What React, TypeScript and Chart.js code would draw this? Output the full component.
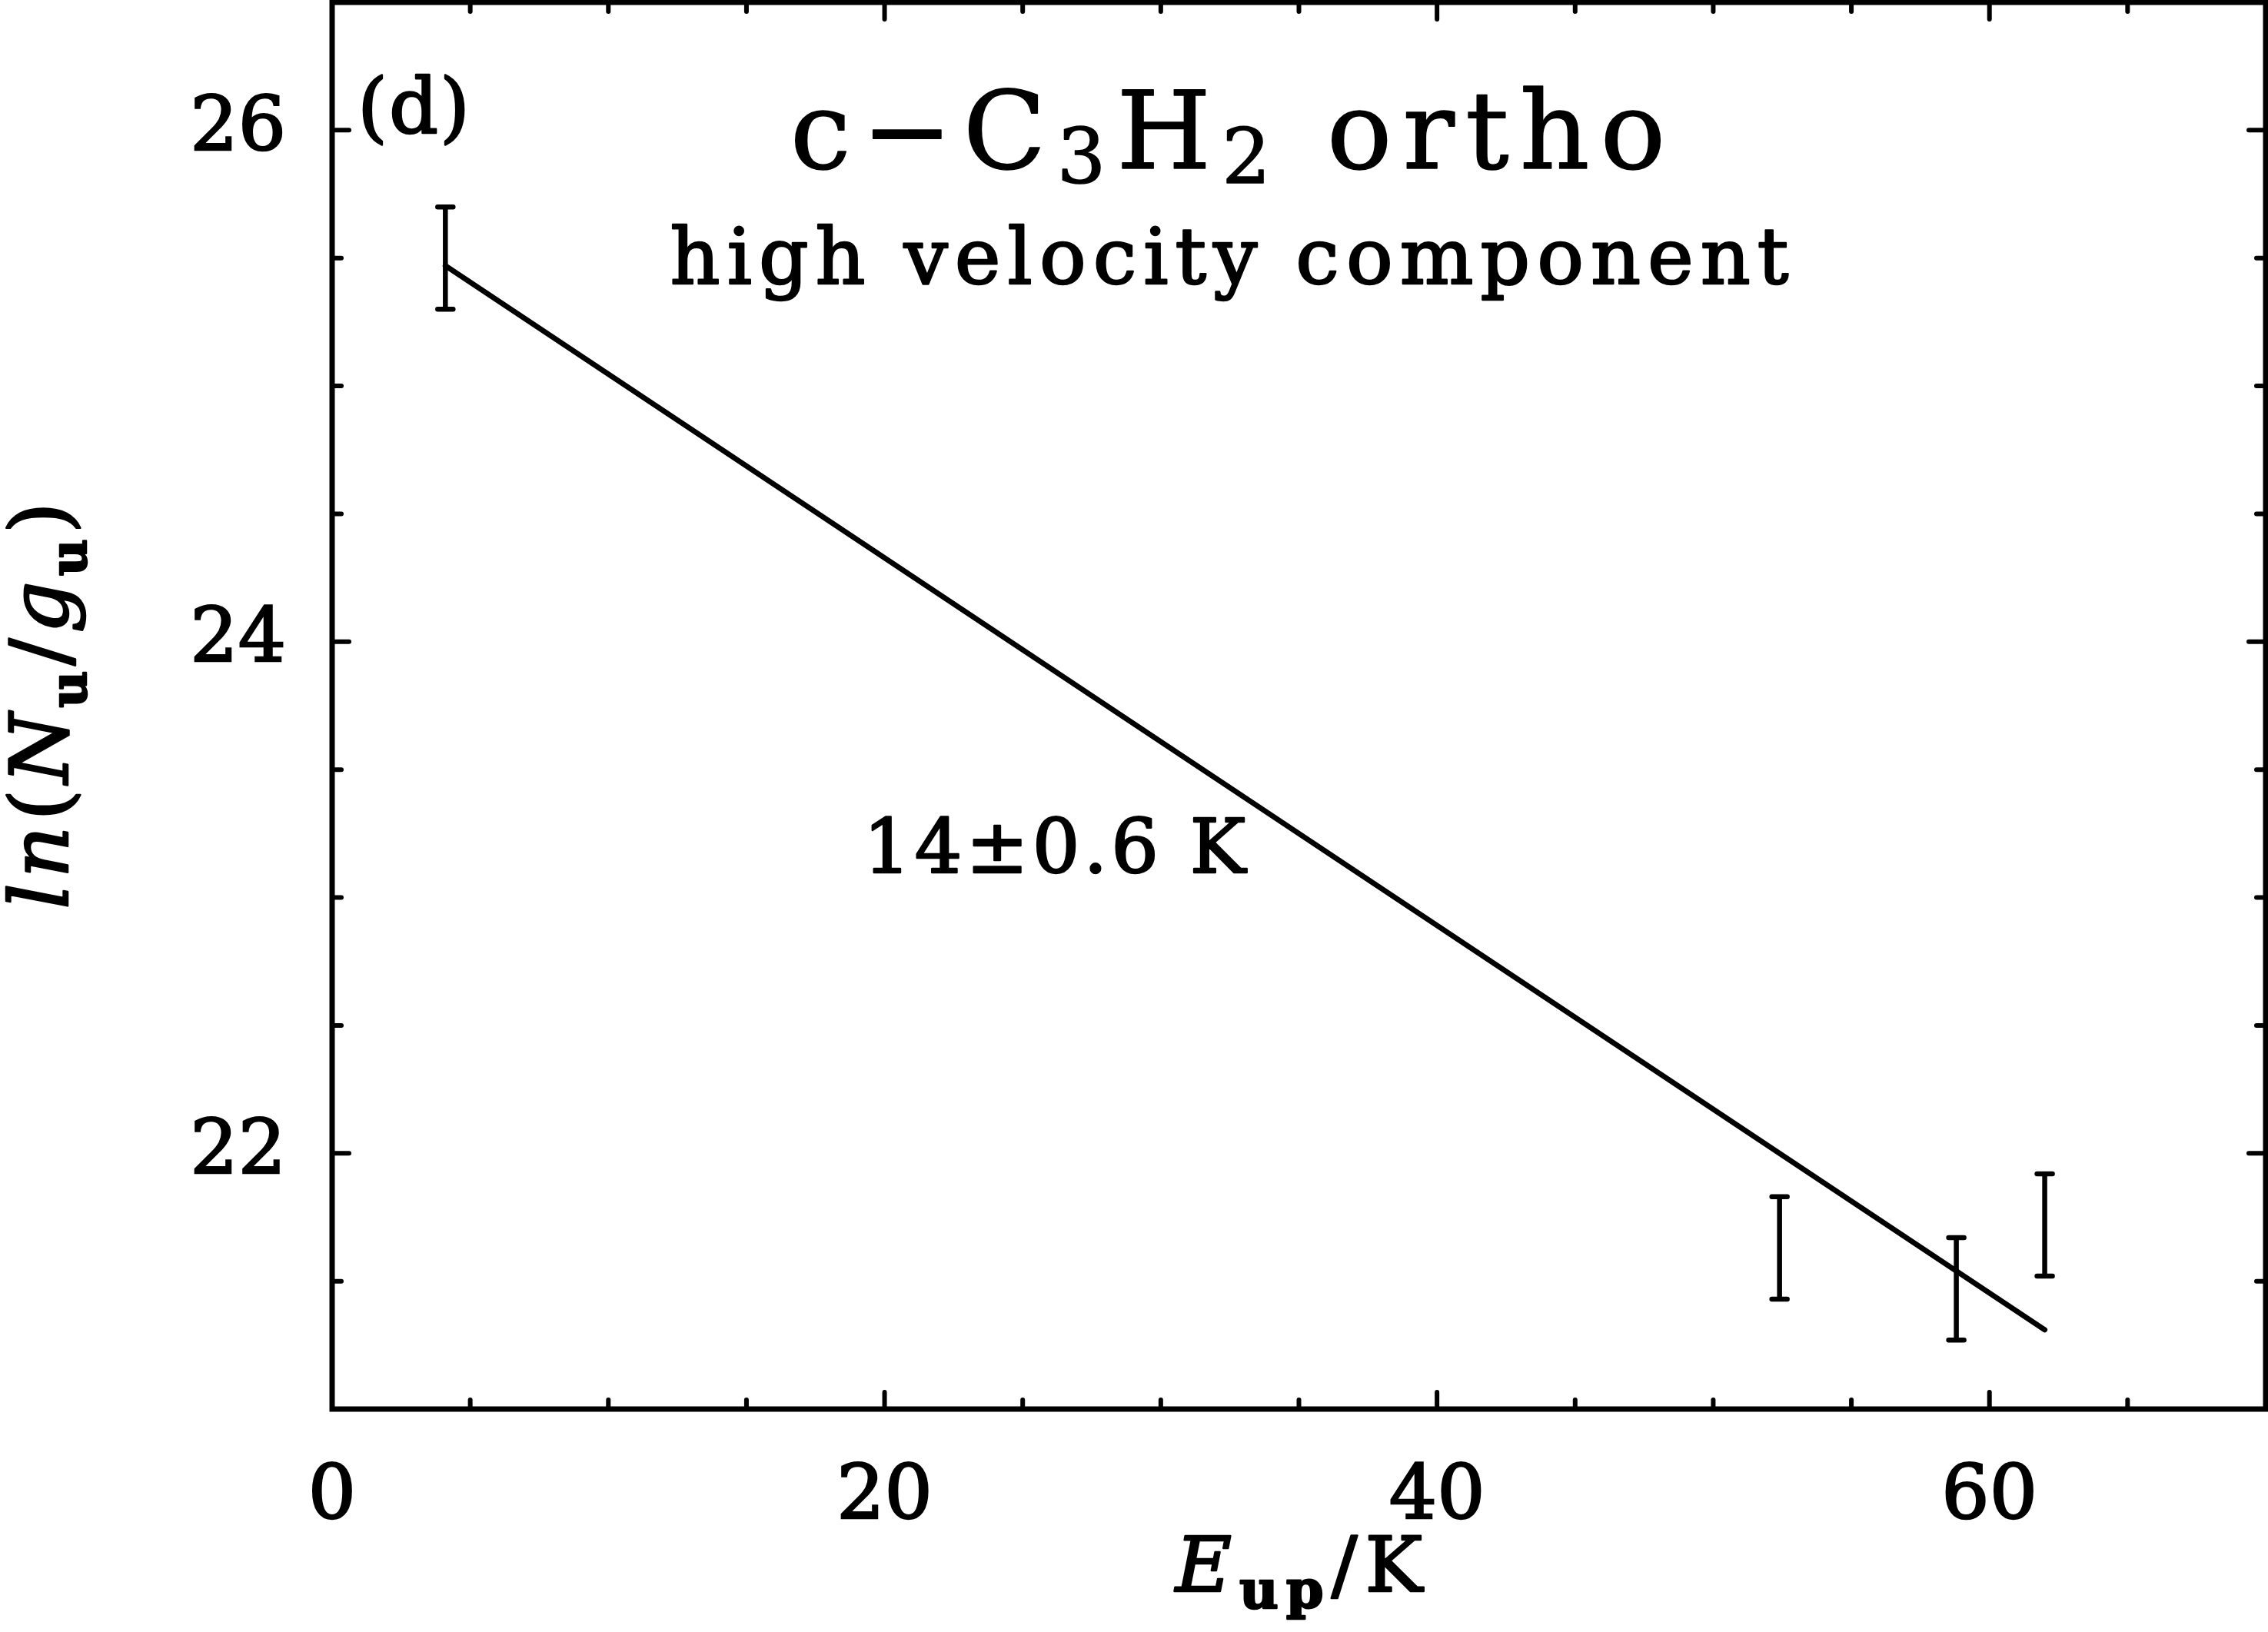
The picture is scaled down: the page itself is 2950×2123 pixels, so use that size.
import React, { useEffect, useRef } from "react";
import { Chart, registerables } from "chart.js";

Chart.register(...registerables);

// ---- data ----
const energies = [4.1, 52.4, 58.8, 62.0]; // E_up / K
const lnNg = [25.5, 21.63, 21.47, 21.72]; // ln(N_u/g_u)
const lnNgErr = [0.2, 0.2, 0.2, 0.2];
const fitX = [4.1, 62.0];
const fitY = [25.47, 21.31];
const xTickValues = [0, 20, 40, 60];
const yTickValues = [22, 24, 26];
const xRange = [0, 70];
const yRange = [21, 26.5];
const xMinorStep = 5;
const yMinorStep = 0.5;
const panelLabel = "(d)";
const moleculeParts = ["c\u2212C", "3", "H", "2", " ortho"];
const componentLabel = "high velocity component";
const fitLabel = "14\u00b10.6 K";

const FAM = '"DejaVu Serif", serif';

type Run = { t: string; size: number; style?: string; weight?: string; dy?: number };

function drawRuns(
  ctx: CanvasRenderingContext2D,
  runs: Run[],
  x: number,
  y: number,
  align: "left" | "center" | "right",
  spacing: number,
  stroke = 2.5
) {
  ctx.save();
  const fontOf = (r: Run) => `${r.style || "normal"} ${r.weight || "normal"} ${r.size}px ${FAM}`;
  (ctx as any).letterSpacing = spacing + "px";
  ctx.textAlign = "left";
  ctx.textBaseline = "alphabetic";
  ctx.fillStyle = "#000";
  ctx.strokeStyle = "#000";
  ctx.lineWidth = stroke;
  ctx.lineJoin = "round";
  const ws: number[] = [];
  let total = 0;
  for (const r of runs) {
    ctx.font = fontOf(r);
    const w = ctx.measureText(r.t).width;
    ws.push(w);
    total += w;
  }
  total -= spacing;
  let cx = align === "center" ? x - total / 2 : align === "right" ? x - total : x;
  runs.forEach((r, i) => {
    ctx.font = fontOf(r);
    ctx.fillText(r.t, cx, y + (r.dy || 0));
    if (stroke > 0) ctx.strokeText(r.t, cx, y + (r.dy || 0));
    cx += ws[i];
  });
  ctx.restore();
}

const framePlugin = {
  id: "framePlugin",
  afterDatasetsDraw(chart: any) {
    const ctx: CanvasRenderingContext2D = chart.ctx;
    const ca = chart.chartArea;
    const xs = chart.scales.x;
    const ys = chart.scales.y;
    ctx.save();
    ctx.strokeStyle = "#000";
    ctx.lineCap = "round";

    // error bars
    ctx.lineWidth = 6.5;
    energies.forEach((e, i) => {
      const px = xs.getPixelForValue(e);
      const pTop = ys.getPixelForValue(lnNg[i] + lnNgErr[i]);
      const pBot = ys.getPixelForValue(lnNg[i] - lnNgErr[i]);
      ctx.beginPath();
      ctx.moveTo(px, pTop);
      ctx.lineTo(px, pBot);
      ctx.moveTo(px - 10, pTop);
      ctx.lineTo(px + 10, pTop);
      ctx.moveTo(px - 10, pBot);
      ctx.lineTo(px + 10, pBot);
      ctx.stroke();
    });

    // ticks (inward, all four sides)
    ctx.lineWidth = 6;
    for (let v = xRange[0]; v <= xRange[1] + 1e-9; v += xMinorStep) {
      const major = xTickValues.some((t) => Math.abs(t - v) < 1e-9);
      const len = major ? 22 : 12;
      const px = xs.getPixelForValue(v);
      ctx.beginPath();
      ctx.moveTo(px, ca.bottom);
      ctx.lineTo(px, ca.bottom - len);
      ctx.moveTo(px, ca.top);
      ctx.lineTo(px, ca.top + len);
      ctx.stroke();
    }
    for (let v = yRange[0]; v <= yRange[1] + 1e-9; v += yMinorStep) {
      const major = yTickValues.some((t) => Math.abs(t - v) < 1e-9);
      const len = major ? 22 : 12;
      const py = ys.getPixelForValue(v);
      ctx.beginPath();
      ctx.moveTo(ca.left, py);
      ctx.lineTo(ca.left + len, py);
      ctx.moveTo(ca.right, py);
      ctx.lineTo(ca.right - len, py);
      ctx.stroke();
    }

    // frame
    ctx.lineWidth = 7;
    ctx.lineCap = "butt";
    ctx.lineJoin = "miter";
    ctx.strokeRect(ca.left, ca.top, ca.right - ca.left, ca.bottom - ca.top);
    ctx.restore();

    // texts
    drawRuns(ctx, [{ t: panelLabel, size: 100 }], ca.left + 33, ca.top + 170, "left", 2);
    drawRuns(
      ctx,
      [
        { t: moleculeParts[0], size: 141 },
        { t: moleculeParts[1], size: 100, dy: 19 },
        { t: moleculeParts[2], size: 141 },
        { t: moleculeParts[3], size: 100, dy: 19 },
        { t: moleculeParts[4], size: 141 },
      ],
      ca.left + 1165,
      ca.top + 216,
      "center",
      14,
      1.5
    );
    drawRuns(ctx, [{ t: componentLabel, size: 101 }], ca.left + 1167, ca.top + 366, "center", 9);
    drawRuns(ctx, [{ t: fitLabel, size: 97 }], ca.left + 691, ca.top + 1132, "left", 5);

    // x axis title
    drawRuns(
      ctx,
      [
        { t: "E", size: 100, style: "italic" },
        { t: "up", size: 70, weight: "bold", dy: 22 },
        { t: "/K", size: 100 },
      ],
      (ca.left + ca.right) / 2,
      ca.bottom + 237,
      "center",
      10
    );

    // y axis title (rotated)
    ctx.save();
    ctx.translate(88, (ca.top + ca.bottom) / 2);
    ctx.rotate(-Math.PI / 2);
    drawRuns(
      ctx,
      [
        { t: "ln", size: 105, style: "italic" },
        { t: "(", size: 105 },
        { t: "N", size: 105, style: "italic" },
        { t: "u", size: 66, weight: "bold", dy: 24 },
        { t: "/", size: 105 },
        { t: "g", size: 105, style: "italic" },
        { t: "u", size: 66, weight: "bold", dy: 24 },
        { t: ")", size: 105 },
      ],
      0,
      0,
      "center",
      7
    );
    ctx.restore();
  },
};

export default function App() {
  const canvasRef = useRef<HTMLCanvasElement | null>(null);

  useEffect(() => {
    const canvas = canvasRef.current;
    if (!canvas) return;
    const chart = new Chart(canvas, {
      type: "scatter",
      data: {
        datasets: [
          {
            type: "line",
            label: "fit",
            data: fitX.map((x, i) => ({ x, y: fitY[i] })),
            borderColor: "#000",
            borderWidth: 7,
            borderCapStyle: "round",
            pointRadius: 0,
            fill: false,
          } as any,
          {
            label: "observed",
            data: energies.map((x, i) => ({ x, y: lnNg[i] })),
            pointRadius: 0,
            showLine: false,
          },
        ],
      },
      options: {
        animation: false,
        responsive: true,
        maintainAspectRatio: false,
        events: [],
        layout: { padding: { left: 0, top: 3, right: 3, bottom: 0 } },
        plugins: { legend: { display: false }, tooltip: { enabled: false }, title: { display: false } },
        scales: {
          x: {
            type: "linear",
            min: xRange[0],
            max: xRange[1],
            grid: { display: false, drawTicks: false },
            border: { display: false },
            ticks: {
              color: "#000",
              font: { family: FAM, size: 98 },
              textStrokeColor: "#000",
              textStrokeWidth: 2.5,
              padding: 58,
              maxRotation: 0,
              autoSkip: false,
            },
            afterBuildTicks: (s: any) => {
              s.ticks = xTickValues.map((v) => ({ value: v }));
            },
            afterFit: (s: any) => {
              s.height = 290;
              s.paddingLeft = 0;
              s.paddingRight = 0;
            },
          },
          y: {
            type: "linear",
            min: yRange[0],
            max: yRange[1],
            grid: { display: false, drawTicks: false },
            border: { display: false },
            ticks: {
              color: "#000",
              font: { family: FAM, size: 98 },
              textStrokeColor: "#000",
              textStrokeWidth: 2.5,
              padding: 60,
              autoSkip: false,
            },
            afterBuildTicks: (s: any) => {
              s.ticks = yTickValues.map((v) => ({ value: v }));
            },
            afterFit: (s: any) => {
              s.width = 432;
              s.paddingTop = 0;
              s.paddingBottom = 0;
            },
          },
        },
      },
      plugins: [framePlugin],
    });
    return () => chart.destroy();
  }, []);

  return (
    <div style={{ position: "fixed", left: 0, top: 0, width: "2950px", height: "2123px", background: "#fff" }}>
      <canvas ref={canvasRef} />
    </div>
  );
}
